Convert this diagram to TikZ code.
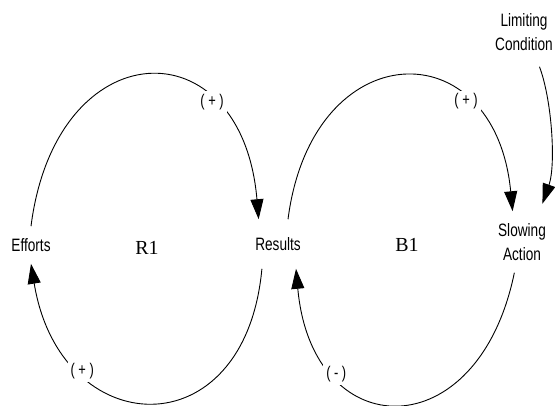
\documentclass[tikz,border=0pt]{standalone}
\usepackage{fontspec}
\usepackage{tikz}
\usetikzlibrary{arrows.meta}
\newfontfamily\labelfont[FakeStretch=0.76]{Liberation Sans}
\newfontfamily\loopfont{Liberation Serif}

\begin{document}
\begin{tikzpicture}[
  x=1bp, y=-1bp,
  var/.style={font=\labelfont\fontsize{18}{24}\selectfont, align=center, inner xsep=2bp, inner ysep=12bp},
  loopname/.style={font=\loopfont\fontsize{20}{22}\selectfont},
  link/.style={-{Triangle[length=20bp,width=13bp]}, black, line width=0.9bp},
  sign/.style={font=\labelfont\fontsize{17}{20}\selectfont, fill=white, inner sep=3bp}
]
\useasboundingbox (0,0) rectangle (555,405);
\node[var] (efforts) at (31,245) {Efforts};
\node[var, inner ysep=18bp] (results) at (278,244) {Results};
\node[var] (slowing) at (522,242) {Slowing\\Action};
\node[var, inner ysep=16bp] (limiting) at (524,32) {Limiting\\Condition};
\node[loopname] (r1) at (147,248) {R1};
\node[loopname] (b1) at (407,245) {B1};

\draw[link] (efforts.north) .. controls (56,30) and (242,24) .. node[sign, pos=0.72]{( + )} (results.128);
\draw[link] (results.237) .. controls (245,452) and (60,442) .. node[sign, pos=0.73]{( + )} (efforts.south);
\draw[link] (results.68) .. controls (312,33) and (495,28) .. node[sign, pos=0.72]{( + )} (slowing.107);
\draw[link] (slowing.256) .. controls (478,450) and (312,446) .. node[sign, pos=0.73]{( - )} (results.306);
\draw[link, shorten >=8bp] (limiting.294) .. controls (552,100) and (556,165) .. (slowing.60);
\end{tikzpicture}
\end{document}
